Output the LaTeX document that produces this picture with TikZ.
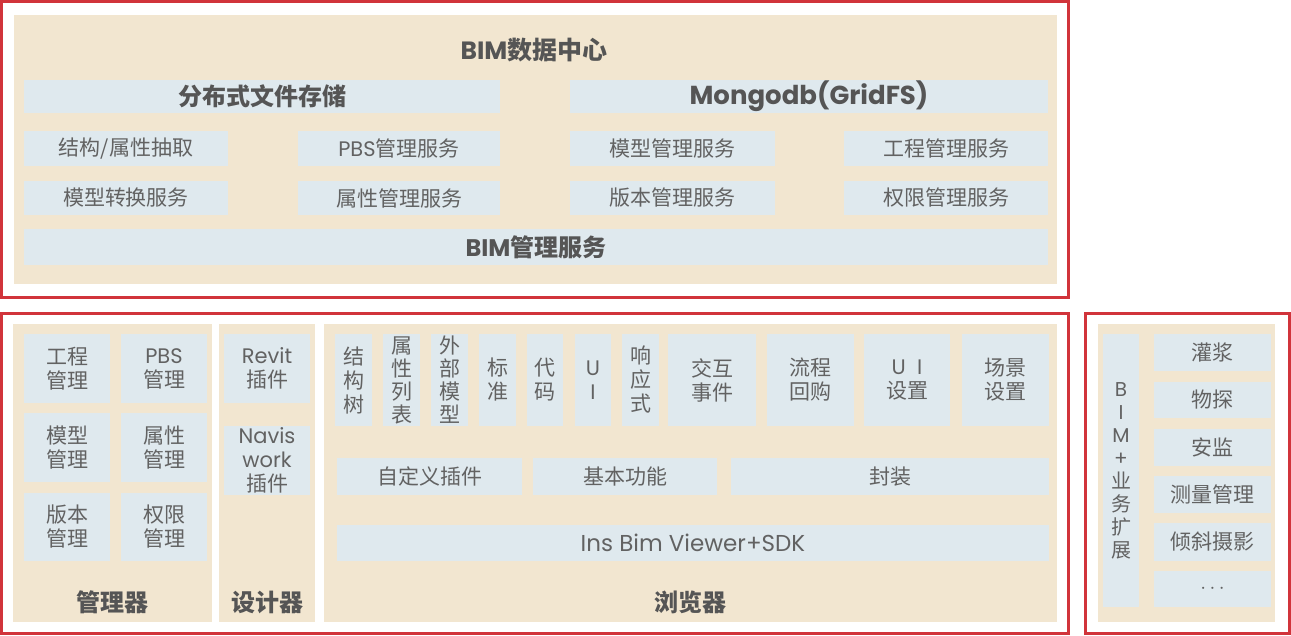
\documentclass[tikz,border=0pt]{standalone}
\usepackage{fontspec}
\setmainfont{Noto Sans CJK SC}
\newfontfamily\lat{Poppins}
\definecolor{redb}{HTML}{D1343B}
\definecolor{beige}{HTML}{F2E6D0}
\definecolor{bluebox}{HTML}{DFE9EE}
\definecolor{txt}{HTML}{626262}
\definecolor{ttlc}{HTML}{555555}
\newcommand\bbox[7][]{\node[bx,#1,minimum width={#5-#3},minimum height={#6-#4}] (#2) at ({(#3+#5)/2},{(#4+#6)/2}) {#7};}
\begin{document}
\begin{tikzpicture}[x=1pt,y=-1pt,
  frame/.style={draw=redb,line width=3pt},
  panel/.style={fill=beige},
  bx/.style={fill=bluebox,inner sep=0pt,outer sep=0pt,text=txt,
    font=\fontsize{21}{24}\selectfont,align=center},
  bold/.style={text=ttlc,font=\fontsize{24}{28}\selectfont\bfseries},
  tight/.style={font=\fontsize{21}{23}\selectfont},
  ttl/.style={bold,inner sep=0pt}]
\useasboundingbox (0,0) rectangle (1291,635);
% frames
\draw[frame] (1.5,1.5) rectangle (1068,297.5);
\draw[frame] (1.5,313.5) rectangle (1068,633.5);
\draw[frame] (1085.5,313.5) rectangle (1289.5,633.5);
% panels
\fill[panel] (14,15) rectangle (1057,284);
\fill[panel] (13,324) rectangle (212,622);
\fill[panel] (219,324) rectangle (315,622);
\fill[panel] (324,324) rectangle (1057,622);
\fill[panel] (1098,324) rectangle (1275,622);
% top
\node[ttl,font=\fontsize{25}{28}\selectfont\bfseries] (title) at (534,50) {{\lat BIM}数据中心};
\bbox[bold]{fs}{24}{80}{500}{113}{分布式文件存储}
\bbox[bold,font=\fontsize{26}{28}\selectfont\bfseries]{mongo}{570}{80}{1048}{113}{{\lat Mongodb(GridFS)}}
\bbox{s1}{24}{131}{228}{166}{结构/属性抽取}
\bbox{s2}{298}{131}{500}{166}{{\lat PBS}管理服务}
\bbox{s3}{570}{131}{775}{166}{模型管理服务}
\bbox{s4}{844}{131}{1048}{166}{工程管理服务}
\bbox{t1}{24}{181}{228}{215}{模型转换服务}
\bbox{t2}{298}{181}{500}{215}{属性管理服务}
\bbox{t3}{570}{181}{775}{215}{版本管理服务}
\bbox{t4}{844}{181}{1048}{215}{权限管理服务}
\bbox[bold]{bimm}{24}{229}{1048}{265}{{\lat BIM}管理服务}
% manager
\bbox{m1}{24}{334}{110}{403}{工程\\管理}
\bbox{m2}{121}{334}{207}{403}{{\lat PBS}\\管理}
\bbox{m3}{24}{413}{110}{482}{模型\\管理}
\bbox{m4}{121}{413}{207}{482}{属性\\管理}
\bbox{m5}{24}{493}{110}{561}{版本\\管理}
\bbox{m6}{121}{493}{207}{561}{权限\\管理}
\node[ttl] (mgr) at (112,602) {管理器};
% designer
\bbox{d1}{224}{334}{310}{403}{{\lat Revit}\\插件}
\bbox{d2}{224}{426}{310}{495}{{\lat Navis}\\{\lat work}\\插件}
\node[ttl] (des) at (267,602) {设计器};
% browser
\bbox{b1}{335}{334}{372}{426}{结\\构\\树}
\bbox[tight]{b2}{383}{334}{420}{426}{属\\性\\列\\表}
\bbox[tight]{b3}{431}{334}{468}{426}{外\\部\\模\\型}
\bbox{b4}{479}{334}{516}{426}{标\\准}
\bbox{b5}{527}{334}{563}{426}{代\\码}
\bbox{b6}{575}{334}{611}{426}{{\lat U}\\{\lat I}}
\bbox{b7}{622}{334}{659}{426}{响\\应\\式}
\bbox{b8}{668}{334}{756}{426}{交互\\事件}
\bbox{b9}{767}{334}{854}{426}{流程\\回购}
\bbox{b10}{864}{334}{950}{426}{{\lat U\ \ I}\\设置}
\bbox{b11}{962}{334}{1049}{426}{场景\\设置}
\bbox{c1}{337}{458}{522}{495}{自定义插件}
\bbox{c2}{533}{458}{717}{495}{基本功能}
\bbox{c3}{731}{458}{1049}{495}{封装}
\bbox[font=\fontsize{23}{26}\selectfont]{sdk}{337}{525}{1049}{561}{{\lat Ins Bim Viewer+SDK}}
\node[ttl] (brw) at (690,602) {浏览器};
% right
\bbox[font=\fontsize{20}{23}\selectfont]{r0}{1103}{334}{1139}{607}{{\lat B}\\{\lat I}\\{\lat M}\\{\lat +}\\业\\务\\扩\\展}
\bbox{r1}{1154}{334}{1271}{371}{灌浆}
\bbox{r2}{1154}{382}{1271}{418}{物探}
\bbox{r3}{1154}{429}{1271}{466}{安监}
\bbox{r4}{1154}{476}{1271}{513}{测量管理}
\bbox{r5}{1154}{523}{1271}{561}{倾斜摄影}
\bbox{r6}{1154}{571}{1271}{607}{$\cdots$}
\end{tikzpicture}
\end{document}
